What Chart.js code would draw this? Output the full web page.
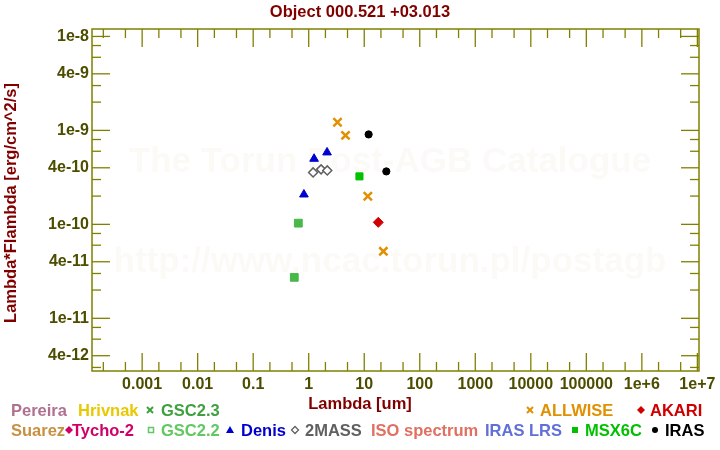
<!DOCTYPE html>
<html>
<head>
<meta charset="utf-8">
<script src="https://cdn.jsdelivr.net/npm/chart.js@4.4.0/dist/chart.umd.min.js"></script>
<style>
  html, body { margin: 0; background: #fff; }
</style>
</head>
<body>
<canvas id="sed" width="720" height="450"></canvas>
<script>
// tick labels
const xTickValues = [1e-3, 1e-2, 0.1, 1, 10, 100, 1e3, 1e4, 1e5, 1e6, 1e7];
const xTickLabels = ['0.001', '0.01', '0.1', '1', '10', '100', '1000', '10000', '100000', '1e+6', '1e+7'];
const yTickValues = [1e-8, 4e-9, 1e-9, 4e-10, 1e-10, 4e-11, 1e-11, 4e-12];
const yTickLabels = ['1e-8', '4e-9', '1e-9', '4e-10', '1e-10', '4e-11', '1e-11', '4e-12'];

// photometry, lambda [um] and lambda*F_lambda [erg/cm^2/s]
const allwiseLambda = [3.3, 4.6, 11.6, 22.1];
const allwiseFlux = [1.22e-9, 8.85e-10, 1.99e-10, 5.16e-11];
const irasLambda = [12, 25];
const irasFlux = [9.06e-10, 3.66e-10];
const msxLambda = [8.2];
const msxFlux = [3.24e-10];
const akariLambda = [17.9];
const akariFlux = [1.05e-10];
const denisLambda = [0.82, 1.25, 2.14];
const denisFlux = [2.08e-10, 4.99e-10, 5.83e-10];
const twomassLambda = [1.2, 1.67, 2.16];
const twomassFlux = [3.57e-10, 3.85e-10, 3.75e-10];
const gscLambda = [0.65, 0.55];
const gscFlux = [1.03e-10, 2.73e-11];

const FONT = '"Liberation Sans", Arial, sans-serif';
const AXIS = '#808000';
const TICKTXT = '#4d4d00';
const DARKRED = '#800000';

function pts(xs, ys) {
    return xs.map((x, i) => ({ x: x, y: ys[i] }));
}

function line(ctx, x1, y1, x2, y2) {
    ctx.beginPath();
    ctx.moveTo(x1, y1);
    ctx.lineTo(x2, y2);
    ctx.stroke();
}

// little legend markers
function sym(ctx, type, x, y, color) {
    ctx.save();
    ctx.fillStyle = color;
    ctx.strokeStyle = color;
    ctx.lineWidth = 2;
    ctx.beginPath();
    if (type === 'cross') {
        line(ctx, x - 3, y - 3, x + 3, y + 3);
        line(ctx, x - 3, y + 3, x + 3, y - 3);
    } else if (type === 'diamond') {
        ctx.moveTo(x, y - 4); ctx.lineTo(x + 4, y); ctx.lineTo(x, y + 4); ctx.lineTo(x - 4, y);
        ctx.closePath(); ctx.fill();
    } else if (type === 'odiamond') {
        ctx.lineWidth = 1.3;
        ctx.moveTo(x, y - 3.5); ctx.lineTo(x + 3.5, y); ctx.lineTo(x, y + 3.5); ctx.lineTo(x - 3.5, y);
        ctx.closePath(); ctx.stroke();
    } else if (type === 'osquare') {
        ctx.lineWidth = 1.5;
        ctx.strokeRect(x - 2.5, y - 2.5, 5, 5);
    } else if (type === 'square') {
        ctx.fillRect(x - 3, y - 3, 6, 6);
    } else if (type === 'triangle') {
        ctx.moveTo(x, y - 4); ctx.lineTo(x + 4, y + 3); ctx.lineTo(x - 4, y + 3);
        ctx.closePath(); ctx.fill();
    } else if (type === 'circle') {
        ctx.arc(x, y, 3, 0, Math.PI * 2); ctx.fill();
    }
    ctx.restore();
}

const decor = {
    id: 'decor',
    beforeDatasetsDraw(chart) {
        const { ctx, chartArea: a, scales: { x, y } } = chart;
        ctx.save();

        // watermark
        ctx.fillStyle = '#fbfaf6';
        ctx.textAlign = 'center';
        ctx.textBaseline = 'middle';
        ctx.font = 'bold 35px ' + FONT;
        ctx.fillText('The Torun Post-AGB Catalogue', 390, 162);
        ctx.fillText('http://www.ncac.torun.pl/postagb', 390, 262);

        // frame
        ctx.strokeStyle = AXIS;
        ctx.lineWidth = 1.5;
        ctx.strokeRect(a.left, a.top, a.right - a.left, a.bottom - a.top);

        // ticks on all four sides
        ctx.lineWidth = 1.3;
        for (let e = -4; e <= 7; e++) {
            for (const m of [1, 2, 5]) {
                const v = m * Math.pow(10, e);
                if (v < x.min || v > x.max) continue;
                const px = x.getPixelForValue(v);
                const len = m === 1 ? 18 : 9;
                line(ctx, px, a.bottom, px, a.bottom - len);
                line(ctx, px, a.top, px, a.top + len);
            }
        }
        for (let e = -12; e <= -8; e++) {
            for (const m of [1, 2, 3, 4, 6, 8]) {
                const v = m * Math.pow(10, e);
                if (v < y.min || v > y.max) continue;
                const py = y.getPixelForValue(v);
                const len = (m === 1 || m === 4) ? 18 : 9;
                line(ctx, a.left, py, a.left + len, py);
                line(ctx, a.right, py, a.right - len, py);
            }
        }
        ctx.restore();
    },
    afterDraw(chart) {
        const ctx = chart.ctx;
        ctx.save();
        ctx.font = 'bold 16.5px ' + FONT;
        ctx.textBaseline = 'middle';
        ctx.textAlign = 'center';

        ctx.fillStyle = DARKRED;
        ctx.fillText('Object 000.521 +03.013', 360, 12);
        ctx.fillText('Lambda [um]', 360, 404);
        ctx.save();
        ctx.translate(11, 203);
        ctx.rotate(-Math.PI / 2);
        ctx.fillText('Lambda*Flambda [erg/cm^2/s]', 0, 0);
        ctx.restore();

        // legend, two rows
        ctx.textAlign = 'left';
        const row1 = 410, row2 = 430;
        const texts = [
            ['Pereira', 11, row1, '#b07090'],
            ['Hrivnak', 78, row1, '#e8c800'],
            ['GSC2.3', 161, row1, '#40a040'],
            ['ALLWISE', 540, row1, '#e09000'],
            ['AKARI', 650, row1, '#d00000'],
            ['Suarez', 11, row2, '#c89040'],
            ['Tycho-2', 72, row2, '#d00068'],
            ['GSC2.2', 161, row2, '#60c860'],
            ['Denis', 241, row2, '#0000d0'],
            ['2MASS', 305, row2, '#606060'],
            ['ISO spectrum', 371, row2, '#e07060'],
            ['IRAS LRS', 485, row2, '#6070d8'],
            ['MSX6C', 585, row2, '#00c000'],
            ['IRAS', 665, row2, '#000000']
        ];
        texts.forEach(t => {
            ctx.fillStyle = t[3];
            ctx.fillText(t[0], t[1], t[2] + 1);
        });
        sym(ctx, 'cross', 150, row1, '#40a040');
        sym(ctx, 'cross', 530, row1, '#e09000');
        sym(ctx, 'diamond', 641, row1, '#d00000');
        sym(ctx, 'diamond', 69, row2, '#d00068');
        sym(ctx, 'osquare', 151, row2, '#60c860');
        sym(ctx, 'triangle', 230, row2, '#0000d0');
        sym(ctx, 'odiamond', 295, row2, '#606060');
        sym(ctx, 'square', 575, row2, '#00c000');
        sym(ctx, 'circle', 655, row2, '#000000');
        ctx.restore();
    }
};

new Chart(document.getElementById('sed'), {
    type: 'scatter',
    data: {
        datasets: [
            { label: 'GSC2.2', data: pts(gscLambda, gscFlux), pointStyle: 'rect', pointRadius: 5.5,
              backgroundColor: '#48b848', borderColor: '#48b848', borderWidth: 1 },
            { label: 'GSC2.3', data: pts(gscLambda, gscFlux), pointStyle: 'crossRot', pointRadius: 5,
              borderColor: '#3aa63a', borderWidth: 1 },
            { label: 'Denis', data: pts(denisLambda, denisFlux), pointStyle: 'triangle', pointRadius: 5,
              backgroundColor: '#0000d0', borderColor: '#0000d0', borderWidth: 1 },
            { label: '2MASS', data: pts(twomassLambda, twomassFlux), pointStyle: 'rectRot', pointRadius: 4.5,
              backgroundColor: '#ffffff', borderColor: '#606060', borderWidth: 1.5 },
            { label: 'MSX6C', data: pts(msxLambda, msxFlux), pointStyle: 'rect', pointRadius: 5,
              backgroundColor: '#00c000', borderColor: '#00c000', borderWidth: 1 },
            { label: 'AKARI', data: pts(akariLambda, akariFlux), pointStyle: 'rectRot', pointRadius: 5,
              backgroundColor: '#d00000', borderColor: '#d00000', borderWidth: 1 },
            { label: 'ALLWISE', data: pts(allwiseLambda, allwiseFlux), pointStyle: 'crossRot', pointRadius: 5.8,
              borderColor: '#e09000', borderWidth: 2.5 },
            { label: 'IRAS', data: pts(irasLambda, irasFlux), pointStyle: 'circle', pointRadius: 3.6,
              backgroundColor: '#000000', borderColor: '#000000', borderWidth: 1 }
        ]
    },
    options: {
        responsive: false,
        animation: false,
        layout: { padding: { top: 29, right: 21, left: 0, bottom: 0 } },
        plugins: {
            legend: { display: false },
            tooltip: { enabled: false }
        },
        scales: {
            x: {
                type: 'logarithmic',
                min: 1.25e-4,
                max: 1.07e7,
                afterFit: s => { s.height = 79; },
                afterBuildTicks: s => { s.ticks = xTickValues.map(v => ({ value: v })); },
                ticks: {
                    autoSkip: false,
                    maxRotation: 0,
                    padding: 4,
                    color: TICKTXT,
                    font: { family: FONT, size: 16, weight: 'bold' },
                    callback: (v, i) => xTickLabels[i]
                },
                grid: { display: false, drawTicks: false },
                border: { display: false }
            },
            y: {
                type: 'logarithmic',
                min: 2.75e-12,
                max: 1.2e-8,
                afterFit: s => { s.width = 92; },
                afterBuildTicks: s => { s.ticks = yTickValues.map(v => ({ value: v })); },
                ticks: {
                    autoSkip: false,
                    padding: 3,
                    color: TICKTXT,
                    font: { family: FONT, size: 16, weight: 'bold' },
                    callback: (v, i) => yTickLabels[i]
                },
                grid: { display: false, drawTicks: false },
                border: { display: false }
            }
        }
    },
    plugins: [decor]
});
</script>
</body>
</html>
